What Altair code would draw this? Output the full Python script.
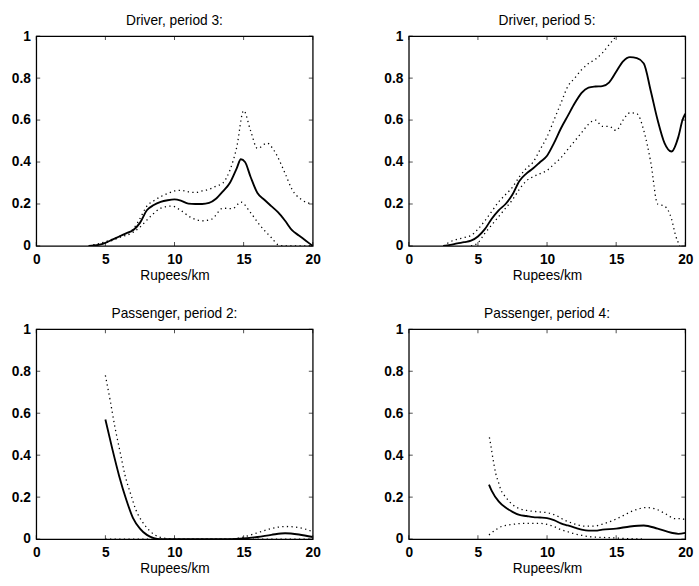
import altair as alt
import pandas as pd

X_TICKS = [0, 5, 10, 15, 20]
Y_TICKS = [0, 0.2, 0.4, 0.6, 0.8, 1]

# Driver, period 3
tl_solid_x = [3.8, 4.5, 5.0, 5.5, 6.0, 6.5, 7.0, 7.5, 8.0, 8.5, 9.0, 9.5, 10.0, 10.5, 11.0, 11.5, 12.0, 12.5, 13.0, 13.5, 14.0, 14.5, 14.8, 15.1, 15.5, 16.0, 16.5, 17.0, 17.5, 18.0, 18.5, 19.0, 19.5, 20.0]
tl_solid_y = [0, 0.005, 0.015, 0.03, 0.045, 0.06, 0.075, 0.11, 0.17, 0.195, 0.21, 0.218, 0.222, 0.215, 0.202, 0.2, 0.2, 0.205, 0.225, 0.26, 0.3, 0.37, 0.413, 0.4, 0.33, 0.252, 0.22, 0.19, 0.16, 0.12, 0.075, 0.05, 0.025, 0]
tl_upper_x = [3.8, 5, 6, 7, 7.5, 8, 8.5, 9, 9.5, 10, 10.5, 11, 11.5, 12, 12.5, 13, 13.5, 14, 14.5, 15, 15.5, 16, 16.7, 17.2, 18, 18.5, 19.2, 20]
tl_upper_y = [0, 0.02, 0.045, 0.08, 0.13, 0.19, 0.215, 0.235, 0.25, 0.262, 0.265, 0.258, 0.255, 0.262, 0.27, 0.285, 0.3, 0.36, 0.47, 0.645, 0.55, 0.465, 0.49, 0.455, 0.346, 0.27, 0.22, 0.2]
tl_lower_x = [3.8, 5, 6, 7, 7.5, 8.3, 9, 9.8, 10.5, 11.2, 12, 12.7, 13.5, 14.2, 14.8, 15.5, 16.2, 17, 17.5, 18, 20]
tl_lower_y = [0, 0.015, 0.04, 0.065, 0.09, 0.143, 0.18, 0.19, 0.167, 0.135, 0.12, 0.128, 0.18, 0.178, 0.209, 0.159, 0.097, 0.04, 0.006, 0, 0]

# Driver, period 5
tr_solid_x = [2.5, 3, 3.5, 4, 4.5, 5, 5.5, 6, 6.5, 7, 7.5, 8, 8.5, 9, 9.5, 10, 10.5, 11, 11.5, 12, 12.5, 13, 13.5, 14, 14.5, 15, 15.5, 16, 16.5, 17, 17.5, 18, 18.5, 19, 19.5, 19.8, 20]
tr_solid_y = [0, 0.005, 0.012, 0.018, 0.025, 0.045, 0.08, 0.13, 0.17, 0.2, 0.245, 0.31, 0.345, 0.37, 0.4, 0.43, 0.49, 0.56, 0.62, 0.68, 0.73, 0.755, 0.76, 0.762, 0.78, 0.83, 0.88, 0.9, 0.895, 0.87, 0.74, 0.6, 0.49, 0.45, 0.52, 0.6, 0.63]
tr_upper_x = [2.5, 3, 4, 4.5, 5, 5.5, 6, 6.5, 7, 7.5, 8, 8.5, 9, 9.5, 10, 10.5, 11, 11.5, 12, 12.5, 13, 13.5, 14, 14.5, 15, 15.5, 16]
tr_upper_y = [0, 0.02, 0.04, 0.05, 0.08, 0.12, 0.165, 0.21, 0.245, 0.28, 0.33, 0.37, 0.4, 0.46, 0.52, 0.6, 0.68, 0.76, 0.8, 0.84, 0.87, 0.89, 0.92, 0.96, 1.0, 1.04, 1.08]
tr_lower_x = [4.5, 5, 5.5, 6, 6.5, 7, 7.5, 8, 8.5, 9, 9.5, 10, 10.5, 11, 11.5, 12, 12.5, 13, 13.5, 14, 14.5, 15, 15.5, 16, 16.5, 17, 17.5, 18, 18.5, 19, 19.3, 19.6]
tr_lower_y = [0, 0.015, 0.06, 0.1, 0.14, 0.18, 0.22, 0.27, 0.31, 0.33, 0.345, 0.36, 0.39, 0.42, 0.46, 0.5, 0.54, 0.58, 0.6, 0.57, 0.57, 0.55, 0.6, 0.635, 0.63, 0.55, 0.4, 0.2, 0.19, 0.13, 0.05, 0]

# Passenger, period 2
bl_solid_x = [5, 5.5, 6, 6.5, 7, 7.5, 8, 8.5, 9, 10, 12, 14, 15, 16, 17, 18, 19, 20]
bl_solid_y = [0.57, 0.43, 0.3, 0.19, 0.1, 0.05, 0.02, 0.005, 0, 0, 0, 0, 0.003, 0.01, 0.02, 0.028, 0.022, 0.01]
bl_upper_x = [5, 5.35, 5.7, 6.05, 6.4, 6.9, 7.2, 7.7, 8.2, 8.9, 10, 14, 15, 16, 17, 18, 19, 20]
bl_upper_y = [0.78, 0.66, 0.53, 0.42, 0.31, 0.2, 0.14, 0.08, 0.04, 0.01, 0, 0, 0.01, 0.03, 0.05, 0.06, 0.055, 0.035]
bl_lower_x = [5, 10, 15, 20]
bl_lower_y = [0, 0, 0, 0]

# Passenger, period 4
br_solid_x = [5.8, 6, 6.5, 7, 7.5, 8, 8.5, 9, 9.5, 10, 10.5, 11, 11.5, 12, 12.5, 13, 13.5, 14, 15, 16, 17, 18, 19, 19.5, 20]
br_solid_y = [0.26, 0.23, 0.18, 0.15, 0.13, 0.115, 0.11, 0.105, 0.103, 0.1, 0.09, 0.075, 0.065, 0.055, 0.045, 0.04, 0.04, 0.045, 0.05, 0.06, 0.065, 0.05, 0.03, 0.025, 0.03]
br_upper_x = [5.83, 5.95, 6.07, 6.19, 6.3, 6.49, 6.66, 7.01, 7.49, 7.96, 8.67, 9.37, 10.08, 10.67, 11.26, 11.97, 12.68, 13.39, 14.1, 14.8, 15.51, 16.22, 17.17, 17.87, 18.58, 19.29, 19.76, 20]
br_upper_y = [0.485, 0.44, 0.39, 0.345, 0.31, 0.27, 0.235, 0.2, 0.165, 0.146, 0.135, 0.13, 0.125, 0.112, 0.09, 0.073, 0.062, 0.062, 0.073, 0.09, 0.112, 0.135, 0.15, 0.143, 0.12, 0.097, 0.097, 0.09]
br_lower_x = [5.8, 6.2, 6.7, 7.5, 8.5, 9.5, 10, 10.5, 11, 11.5, 12, 12.5, 13, 14, 15, 16, 17]
br_lower_y = [0.02, 0.04, 0.06, 0.07, 0.075, 0.075, 0.07, 0.06, 0.045, 0.035, 0.025, 0.018, 0.012, 0.008, 0.005, 0.002, 0]

W, H = 282, 214
FONT = "Liberation Sans"


def panel(title, sx, sy, ux, uy, lx, ly):
    xs = alt.Scale(domain=[0, 20], nice=False, zero=False)
    ys = alt.Scale(domain=[0, 1], nice=False)
    xax = alt.Axis(values=X_TICKS, title="Rupees/km", ticks=False, domain=False, grid=False,
                   labelPadding=7, minExtent=21, maxExtent=21, titlePadding=2,
                   labelFontSize=14, labelFontWeight="bold", titleFontSize=14,
                   titleFontWeight="normal", format="~g", labelFlush=False,
                   labelColor="black", titleColor="black")
    yax = alt.Axis(values=Y_TICKS, title=None, ticks=False, domain=False, grid=False,
                   labelPadding=6, minExtent=30, maxExtent=30, labelFontSize=14,
                   labelFontWeight="bold", format="~g", labelColor="black")
    X = alt.X("x:Q", scale=xs, axis=xax, title="Rupees/km")
    Y = alt.Y("y:Q", scale=ys, axis=yax, title=None)
    solid = alt.Chart(pd.DataFrame({"x": sx, "y": sy})).mark_line(
        color="black", strokeWidth=1.9, interpolate="monotone", clip=True
    ).encode(x=X, y=Y)
    upper = alt.Chart(pd.DataFrame({"x": ux, "y": uy})).mark_line(
        color="black", strokeWidth=1.3, strokeDash=[1.3, 3.4], interpolate="monotone", clip=True
    ).encode(x=X, y=Y)
    lower = alt.Chart(pd.DataFrame({"x": lx, "y": ly})).mark_line(
        color="black", strokeWidth=1.3, strokeDash=[1.3, 3.4], interpolate="monotone", clip=True
    ).encode(x=X, y=Y)
    xt = pd.DataFrame({"x": X_TICKS})
    yt = pd.DataFrame({"y": Y_TICKS})
    tb = alt.Chart(xt).mark_tick(orient="vertical", size=4, thickness=1, color="black").encode(
        x=X, y=alt.value(H - 2))
    tt = alt.Chart(xt).mark_tick(orient="vertical", size=4, thickness=1, color="black").encode(
        x=X, y=alt.value(2))
    tlft = alt.Chart(yt).mark_tick(orient="horizontal", size=4, thickness=1, color="black").encode(
        y=Y, x=alt.value(2))
    trgt = alt.Chart(yt).mark_tick(orient="horizontal", size=4, thickness=1, color="black").encode(
        y=Y, x=alt.value(W - 2))
    return alt.layer(solid, upper, lower, tb, tt, tlft, trgt).properties(
        width=W, height=H,
        title=alt.Title(title, fontSize=14, fontWeight="normal", offset=1, color="black"),
    )


tl = panel("Driver, period 3:", tl_solid_x, tl_solid_y, tl_upper_x, tl_upper_y, tl_lower_x, tl_lower_y)
tr = panel("Driver, period 5:", tr_solid_x, tr_solid_y, tr_upper_x, tr_upper_y, tr_lower_x, tr_lower_y)
bl = panel("Passenger, period 2:", bl_solid_x, bl_solid_y, bl_upper_x, bl_upper_y, bl_lower_x, bl_lower_y)
br = panel("Passenger, period 4:", br_solid_x, br_solid_y, br_upper_x, br_upper_y, br_lower_x, br_lower_y)

chart = alt.vconcat(
    alt.hconcat(tl, tr, spacing=58),
    alt.hconcat(bl, br, spacing=58),
    spacing=24,
).properties(
    padding={"left": 6, "top": 8, "right": 5, "bottom": 5},
    background="white",
).configure(font=FONT).configure_view(stroke="black", strokeWidth=1.3)

chart.save("out.html", embed_options={"renderer": "svg", "actions": False})
